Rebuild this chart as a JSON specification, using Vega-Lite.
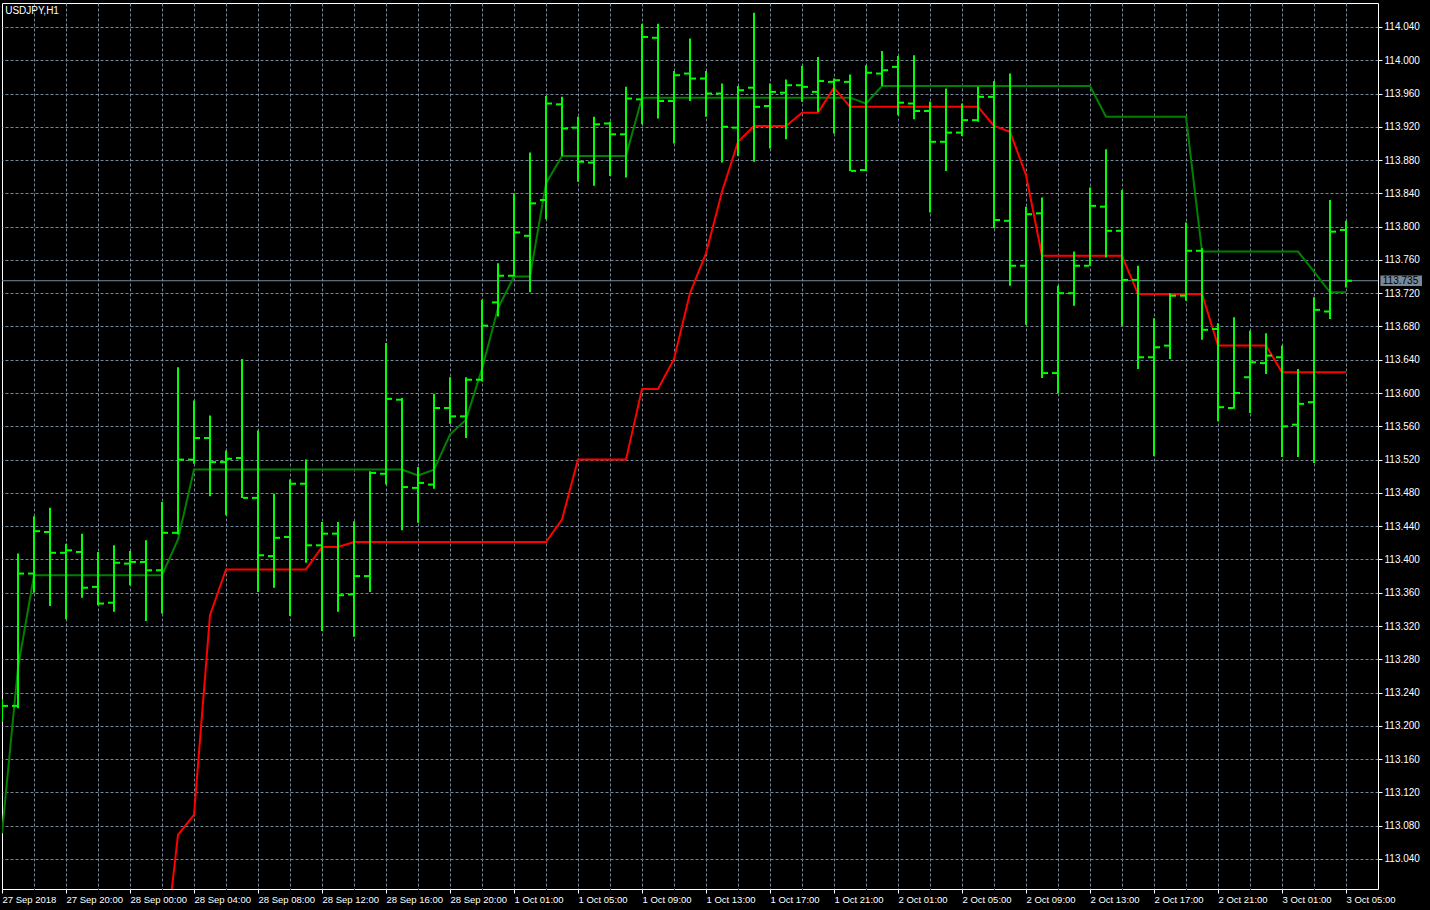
{
  "$schema": "https://vega.github.io/schema/vega-lite/v6.json",
  "autosize": {"type": "none"},
  "padding": {"left": 2, "top": 3, "right": 52, "bottom": 21},
  "width": 1376,
  "height": 886,
  "background": "#000000",
  "config": {
    "view": {"stroke": "#ffffff", "strokeWidth": 1, "fill": "#000000"},
    "axis": {"labelBound": false, "labelFlush": false}
  },
  "datasets": {
    "bars": [
      {"i":0,"t":"2018-09-27 16:00","o":113.215,"h":113.232,"l":113.205,"c":113.224,"g":113.071},
      {"i":1,"t":"2018-09-27 17:00","o":113.224,"h":113.407,"l":113.221,"c":113.383,"g":113.270},
      {"i":2,"t":"2018-09-27 18:00","o":113.383,"h":113.452,"l":113.360,"c":113.434,"g":113.381},
      {"i":3,"t":"2018-09-27 19:00","o":113.433,"h":113.462,"l":113.344,"c":113.408,"g":113.381},
      {"i":4,"t":"2018-09-27 20:00","o":113.408,"h":113.419,"l":113.328,"c":113.411,"g":113.381},
      {"i":5,"t":"2018-09-27 21:00","o":113.409,"h":113.431,"l":113.354,"c":113.366,"g":113.381},
      {"i":6,"t":"2018-09-27 22:00","o":113.367,"h":113.409,"l":113.345,"c":113.347,"g":113.381},
      {"i":7,"t":"2018-09-27 23:00","o":113.348,"h":113.417,"l":113.337,"c":113.396,"g":113.381},
      {"i":8,"t":"2018-09-28 00:00","o":113.395,"h":113.410,"l":113.369,"c":113.397,"g":113.381},
      {"i":9,"t":"2018-09-28 01:00","o":113.397,"h":113.423,"l":113.326,"c":113.387,"g":113.381},
      {"i":10,"t":"2018-09-28 02:00","o":113.387,"h":113.469,"l":113.335,"c":113.432,"g":113.381,"r":112.900},
      {"i":11,"t":"2018-09-28 03:00","o":113.432,"h":113.631,"l":113.430,"c":113.520,"g":113.424,"r":113.069},
      {"i":12,"t":"2018-09-28 04:00","o":113.520,"h":113.591,"l":113.515,"c":113.546,"g":113.508,"r":113.093},
      {"i":13,"t":"2018-09-28 05:00","o":113.546,"h":113.573,"l":113.476,"c":113.517,"g":113.508,"r":113.333},
      {"i":14,"t":"2018-09-28 06:00","o":113.517,"h":113.531,"l":113.453,"c":113.521,"g":113.508,"r":113.388},
      {"i":15,"t":"2018-09-28 07:00","o":113.522,"h":113.641,"l":113.474,"c":113.474,"g":113.508,"r":113.388},
      {"i":16,"t":"2018-09-28 08:00","o":113.474,"h":113.555,"l":113.361,"c":113.405,"g":113.508,"r":113.388},
      {"i":17,"t":"2018-09-28 09:00","o":113.404,"h":113.479,"l":113.366,"c":113.426,"g":113.508,"r":113.388},
      {"i":18,"t":"2018-09-28 10:00","o":113.427,"h":113.496,"l":113.332,"c":113.491,"g":113.508,"r":113.388},
      {"i":19,"t":"2018-09-28 11:00","o":113.491,"h":113.520,"l":113.396,"c":113.417,"g":113.508,"r":113.388},
      {"i":20,"t":"2018-09-28 12:00","o":113.417,"h":113.445,"l":113.314,"c":113.431,"g":113.508,"r":113.415},
      {"i":21,"t":"2018-09-28 13:00","o":113.431,"h":113.445,"l":113.337,"c":113.357,"g":113.508,"r":113.415},
      {"i":22,"t":"2018-09-28 14:00","o":113.358,"h":113.446,"l":113.307,"c":113.380,"g":113.508,"r":113.421},
      {"i":23,"t":"2018-09-28 15:00","o":113.380,"h":113.506,"l":113.361,"c":113.504,"g":113.508,"r":113.421},
      {"i":24,"t":"2018-09-28 16:00","o":113.503,"h":113.660,"l":113.490,"c":113.593,"g":113.508,"r":113.421},
      {"i":25,"t":"2018-09-28 17:00","o":113.592,"h":113.594,"l":113.435,"c":113.487,"g":113.508,"r":113.421},
      {"i":26,"t":"2018-09-28 18:00","o":113.486,"h":113.511,"l":113.444,"c":113.492,"g":113.501,"r":113.421},
      {"i":27,"t":"2018-09-28 19:00","o":113.490,"h":113.599,"l":113.485,"c":113.582,"g":113.508,"r":113.421},
      {"i":28,"t":"2018-09-28 20:00","o":113.582,"h":113.619,"l":113.563,"c":113.572,"g":113.550,"r":113.421},
      {"i":29,"t":"2018-09-28 21:00","o":113.572,"h":113.619,"l":113.546,"c":113.616,"g":113.568,"r":113.421},
      {"i":30,"t":"2018-09-28 22:00","o":113.616,"h":113.712,"l":113.614,"c":113.681,"g":113.629,"r":113.421},
      {"i":31,"t":"2018-09-28 23:00","o":113.709,"h":113.756,"l":113.692,"c":113.741,"g":113.702,"r":113.421},
      {"i":32,"t":"2018-10-01 01:00","o":113.741,"h":113.840,"l":113.740,"c":113.793,"g":113.740,"r":113.421},
      {"i":33,"t":"2018-10-01 02:00","o":113.789,"h":113.889,"l":113.721,"c":113.828,"g":113.740,"r":113.421},
      {"i":34,"t":"2018-10-01 03:00","o":113.832,"h":113.957,"l":113.809,"c":113.948,"g":113.852,"r":113.421},
      {"i":35,"t":"2018-10-01 04:00","o":113.947,"h":113.956,"l":113.885,"c":113.918,"g":113.885,"r":113.448},
      {"i":36,"t":"2018-10-01 05:00","o":113.919,"h":113.932,"l":113.854,"c":113.878,"g":113.885,"r":113.520},
      {"i":37,"t":"2018-10-01 06:00","o":113.877,"h":113.932,"l":113.849,"c":113.923,"g":113.885,"r":113.520},
      {"i":38,"t":"2018-10-01 07:00","o":113.924,"h":113.926,"l":113.861,"c":113.911,"g":113.885,"r":113.520},
      {"i":39,"t":"2018-10-01 08:00","o":113.911,"h":113.968,"l":113.859,"c":113.954,"g":113.885,"r":113.520},
      {"i":40,"t":"2018-10-01 09:00","o":113.953,"h":114.044,"l":113.923,"c":114.028,"g":113.955,"r":113.605},
      {"i":41,"t":"2018-10-01 10:00","o":114.027,"h":114.044,"l":113.930,"c":113.951,"g":113.955,"r":113.605},
      {"i":42,"t":"2018-10-01 11:00","o":113.951,"h":113.987,"l":113.900,"c":113.982,"g":113.955,"r":113.641},
      {"i":43,"t":"2018-10-01 12:00","o":113.984,"h":114.026,"l":113.951,"c":113.978,"g":113.955,"r":113.720},
      {"i":44,"t":"2018-10-01 13:00","o":113.978,"h":113.987,"l":113.932,"c":113.960,"g":113.955,"r":113.768},
      {"i":45,"t":"2018-10-01 14:00","o":113.960,"h":113.972,"l":113.877,"c":113.920,"g":113.955,"r":113.842},
      {"i":46,"t":"2018-10-01 15:00","o":113.919,"h":113.969,"l":113.885,"c":113.964,"g":113.955,"r":113.902},
      {"i":47,"t":"2018-10-01 16:00","o":113.967,"h":114.057,"l":113.878,"c":113.944,"g":113.955,"r":113.921},
      {"i":48,"t":"2018-10-01 17:00","o":113.945,"h":113.972,"l":113.894,"c":113.962,"g":113.955,"r":113.921},
      {"i":49,"t":"2018-10-01 18:00","o":113.961,"h":113.977,"l":113.905,"c":113.970,"g":113.955,"r":113.921},
      {"i":50,"t":"2018-10-01 19:00","o":113.970,"h":113.993,"l":113.950,"c":113.968,"g":113.955,"r":113.937},
      {"i":51,"t":"2018-10-01 20:00","o":113.962,"h":114.004,"l":113.938,"c":113.975,"g":113.955,"r":113.937},
      {"i":52,"t":"2018-10-01 21:00","o":113.974,"h":113.978,"l":113.912,"c":113.976,"g":113.955,"r":113.967},
      {"i":53,"t":"2018-10-01 22:00","o":113.974,"h":113.983,"l":113.867,"c":113.867,"g":113.955,"r":113.944},
      {"i":54,"t":"2018-10-01 23:00","o":113.868,"h":113.994,"l":113.867,"c":113.985,"g":113.948,"r":113.944},
      {"i":55,"t":"2018-10-02 00:00","o":113.984,"h":114.011,"l":113.969,"c":113.988,"g":113.969,"r":113.944},
      {"i":56,"t":"2018-10-02 01:00","o":113.992,"h":114.005,"l":113.934,"c":113.949,"g":113.969,"r":113.944},
      {"i":57,"t":"2018-10-02 02:00","o":113.948,"h":114.006,"l":113.929,"c":113.939,"g":113.969,"r":113.944},
      {"i":58,"t":"2018-10-02 03:00","o":113.939,"h":113.950,"l":113.817,"c":113.902,"g":113.969,"r":113.944},
      {"i":59,"t":"2018-10-02 04:00","o":113.902,"h":113.966,"l":113.867,"c":113.913,"g":113.969,"r":113.944},
      {"i":60,"t":"2018-10-02 05:00","o":113.913,"h":113.948,"l":113.909,"c":113.928,"g":113.969,"r":113.944},
      {"i":61,"t":"2018-10-02 06:00","o":113.928,"h":113.968,"l":113.926,"c":113.956,"g":113.969,"r":113.944},
      {"i":62,"t":"2018-10-02 07:00","o":113.956,"h":113.975,"l":113.798,"c":113.808,"g":113.969,"r":113.921},
      {"i":63,"t":"2018-10-02 08:00","o":113.807,"h":113.984,"l":113.729,"c":113.753,"g":113.969,"r":113.914},
      {"i":64,"t":"2018-10-02 09:00","o":113.753,"h":113.824,"l":113.682,"c":113.815,"g":113.969,"r":113.862},
      {"i":65,"t":"2018-10-02 10:00","o":113.816,"h":113.835,"l":113.618,"c":113.624,"g":113.969,"r":113.765},
      {"i":66,"t":"2018-10-02 11:00","o":113.624,"h":113.729,"l":113.600,"c":113.720,"g":113.969,"r":113.765},
      {"i":67,"t":"2018-10-02 12:00","o":113.720,"h":113.770,"l":113.705,"c":113.753,"g":113.969,"r":113.765},
      {"i":68,"t":"2018-10-02 13:00","o":113.753,"h":113.847,"l":113.753,"c":113.825,"g":113.969,"r":113.765},
      {"i":69,"t":"2018-10-02 14:00","o":113.824,"h":113.893,"l":113.763,"c":113.795,"g":113.932,"r":113.765},
      {"i":70,"t":"2018-10-02 15:00","o":113.795,"h":113.844,"l":113.681,"c":113.736,"g":113.932,"r":113.765},
      {"i":71,"t":"2018-10-02 16:00","o":113.736,"h":113.753,"l":113.629,"c":113.643,"g":113.932,"r":113.719},
      {"i":72,"t":"2018-10-02 17:00","o":113.643,"h":113.690,"l":113.524,"c":113.655,"g":113.932,"r":113.719},
      {"i":73,"t":"2018-10-02 18:00","o":113.657,"h":113.720,"l":113.641,"c":113.717,"g":113.932,"r":113.719},
      {"i":74,"t":"2018-10-02 19:00","o":113.717,"h":113.805,"l":113.711,"c":113.771,"g":113.932,"r":113.719},
      {"i":75,"t":"2018-10-02 20:00","o":113.771,"h":113.774,"l":113.664,"c":113.676,"g":113.770,"r":113.719},
      {"i":76,"t":"2018-10-02 21:00","o":113.677,"h":113.684,"l":113.566,"c":113.583,"g":113.770,"r":113.657},
      {"i":77,"t":"2018-10-02 22:00","o":113.582,"h":113.691,"l":113.581,"c":113.600,"g":113.770,"r":113.657},
      {"i":78,"t":"2018-10-02 23:00","o":113.619,"h":113.675,"l":113.576,"c":113.637,"g":113.770,"r":113.657},
      {"i":79,"t":"2018-10-03 00:00","o":113.636,"h":113.672,"l":113.623,"c":113.645,"g":113.770,"r":113.657},
      {"i":80,"t":"2018-10-03 01:00","o":113.643,"h":113.657,"l":113.523,"c":113.560,"g":113.770,"r":113.625},
      {"i":81,"t":"2018-10-03 02:00","o":113.562,"h":113.629,"l":113.523,"c":113.587,"g":113.770,"r":113.625},
      {"i":82,"t":"2018-10-03 03:00","o":113.589,"h":113.715,"l":113.516,"c":113.700,"g":113.746,"r":113.625},
      {"i":83,"t":"2018-10-03 04:00","o":113.698,"h":113.832,"l":113.689,"c":113.794,"g":113.721,"r":113.625},
      {"i":84,"t":"2018-10-03 05:00","o":113.796,"h":113.807,"l":113.727,"c":113.735,"g":113.721,"r":113.625}
    ]
  },
  "layer": [
    {
      "data": {"name": "bars"},
      "mark": {"type": "rule", "color": "#00ff00", "strokeWidth": 2, "clip": true, "opacity": 0},
      "encoding": {
        "x": {
          "field": "i",
          "type": "quantitative",
          "scale": {"domain": [0, 86], "nice": false, "zero": false},
          "axis": {
            "orient": "bottom",
            "title": null,
            "values": [0,2,4,6,8,10,12,14,16,18,20,22,24,26,28,30,32,34,36,38,40,42,44,46,48,50,52,54,56,58,60,62,64,66,68,70,72,74,76,78,80,82,84],
            "tickCount": 200,
            "grid": true,
            "gridColor": "#778899",
            "gridDash": [3, 2],
            "gridWidth": 1,
            "gridOpacity": {"condition": {"test": "datum.value === 0", "value": 0}, "value": 1},
            "domain": false,
            "ticks": true,
            "tickSize": 4,
            "tickColor": {"condition": {"test": "datum.value % 4 === 0", "value": "#ffffff"}, "value": "#000000"},
            "labelExpr": "datum.value % 4 === 0 ? ['27 Sep 2018','27 Sep 20:00','28 Sep 00:00','28 Sep 04:00','28 Sep 08:00','28 Sep 12:00','28 Sep 16:00','28 Sep 20:00','1 Oct 01:00','1 Oct 05:00','1 Oct 09:00','1 Oct 13:00','1 Oct 17:00','1 Oct 21:00','2 Oct 01:00','2 Oct 05:00','2 Oct 09:00','2 Oct 13:00','2 Oct 17:00','2 Oct 21:00','3 Oct 01:00','3 Oct 05:00'][datum.value / 4] : ''",
            "labelAlign": "left",
            "labelBaseline": "top",
            "labelColor": "#ffffff",
            "labelFont": "Liberation Sans",
            "labelFontSize": 9.5,
            "labelPadding": 1,
            "labelOverlap": false,
            "labelFlush": false,
            "labelBound": false
          }
        },
        "y": {
          "field": "c",
          "type": "quantitative",
          "scale": {"domain": [113.0039, 114.0688], "nice": false, "zero": false},
          "axis": {
            "orient": "right",
            "title": null,
            "values": [113.04,113.08,113.12,113.16,113.2,113.24,113.28,113.32,113.36,113.4,113.44,113.48,113.52,113.56,113.6,113.64,113.68,113.72,113.76,113.8,113.84,113.88,113.92,113.96,114.0,114.04],
            "tickCount": 200,
            "format": ".3f",
            "grid": true,
            "gridColor": "#778899",
            "gridDash": [3, 2],
            "gridWidth": 1,
            "domain": false,
            "tickColor": "#ffffff",
            "tickSize": 4,
            "labelColor": "#ffffff",
            "labelFont": "Liberation Sans",
            "labelFontSize": 10,
            "labelPadding": 2,
            "labelOverlap": false,
            "labelBound": false,
            "labelFlush": false
          }
        }
      }
    },
    {
      "data": {"values": [{"p": 113.735}]},
      "mark": {"type": "rule", "color": "#778899", "strokeWidth": 1},
      "encoding": {
        "y": {"field": "p", "type": "quantitative"}
      }
    },
    {
      "data": {"name": "bars"},
      "mark": {"type": "line", "color": "#008000", "strokeWidth": 2, "clip": true},
      "encoding": {
        "x": {"field": "i", "type": "quantitative"},
        "y": {"field": "g", "type": "quantitative"}
      }
    },
    {
      "data": {"name": "bars"},
      "mark": {"type": "line", "color": "#ff0000", "strokeWidth": 2, "clip": true},
      "encoding": {
        "x": {"field": "i", "type": "quantitative"},
        "y": {"field": "r", "type": "quantitative"}
      }
    },
    {
      "data": {"name": "bars"},
      "mark": {"type": "rule", "color": "#00ff00", "strokeWidth": 2, "clip": true},
      "encoding": {
        "x": {"field": "i", "type": "quantitative"},
        "y": {"field": "l", "type": "quantitative"},
        "y2": {"field": "h"}
      }
    },
    {
      "data": {"name": "bars"},
      "mark": {"type": "rule", "color": "#00ff00", "strokeWidth": 2, "xOffset": -6, "x2Offset": -1, "clip": true},
      "encoding": {
        "x": {"field": "i", "type": "quantitative"},
        "x2": {"field": "i"},
        "y": {"field": "o", "type": "quantitative"}
      }
    },
    {
      "data": {"name": "bars"},
      "mark": {"type": "rule", "color": "#00ff00", "strokeWidth": 2, "xOffset": 1, "x2Offset": 6, "clip": true},
      "encoding": {
        "x": {"field": "i", "type": "quantitative"},
        "x2": {"field": "i"},
        "y": {"field": "c", "type": "quantitative"}
      }
    },
    {
      "data": {"values": [{"name": "USDJPY,H1"}]},
      "mark": {"type": "text", "align": "left", "baseline": "top", "color": "#ffffff", "font": "Liberation Sans", "fontSize": 10, "clip": false},
      "encoding": {
        "x": {"datum": 0.2, "type": "quantitative"},
        "y": {"datum": 114.0655, "type": "quantitative"},
        "text": {"field": "name"}
      }
    },
    {
      "data": {"values": [{"p": 113.735, "lbl": "113.735"}]},
      "mark": {"type": "rect", "color": "#778899", "clip": false},
      "encoding": {
        "x": {"datum": 86.15, "type": "quantitative"},
        "x2": {"datum": 88.75},
        "y": {"datum": 113.7412, "type": "quantitative"},
        "y2": {"datum": 113.7288}
      }
    },
    {
      "data": {"values": [{"p": 113.735, "lbl": "113.735"}]},
      "mark": {"type": "text", "align": "left", "baseline": "middle", "color": "#000000", "font": "Liberation Sans", "fontSize": 10, "clip": false},
      "encoding": {
        "x": {"datum": 86.3, "type": "quantitative"},
        "y": {"field": "p", "type": "quantitative"},
        "text": {"field": "lbl"}
      }
    }
  ]
}
